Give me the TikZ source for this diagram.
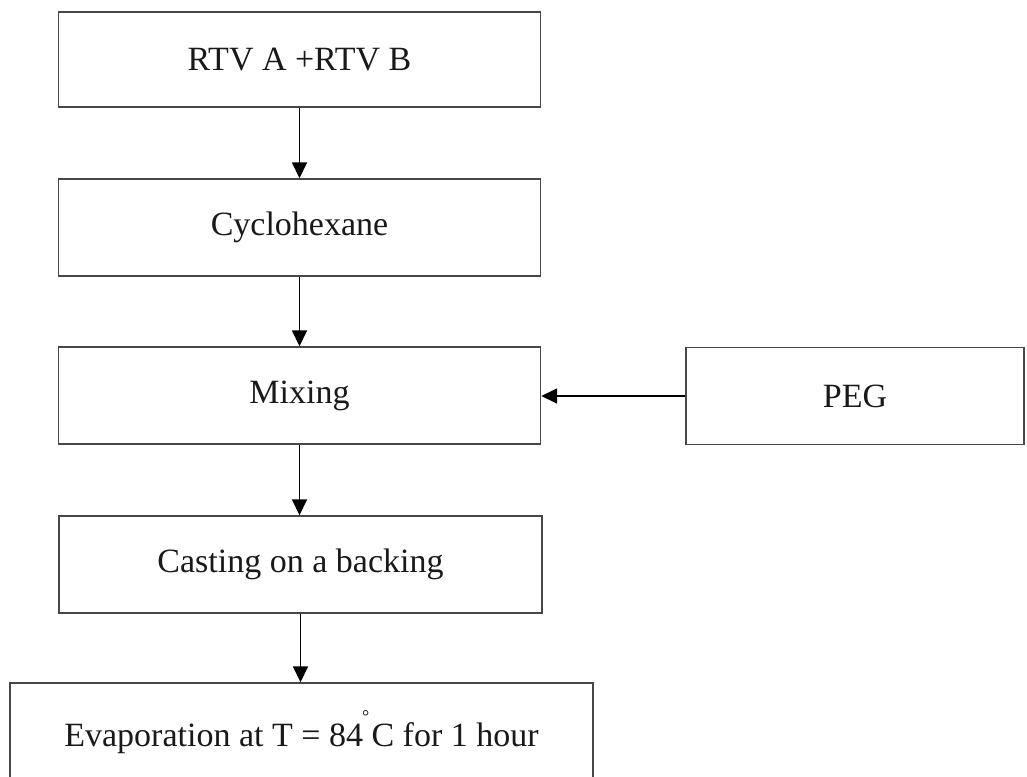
\documentclass[tikz,border=0pt]{standalone}
\usepackage{fontspec}
\setmainfont{Liberation Serif}
\usetikzlibrary{arrows.meta}
\begin{document}
\begin{tikzpicture}[x=1pt,y=-1pt,
  box/.style={draw=black!72, line width=1.4pt, inner sep=0pt,
    font=\fontsize{34}{40}\selectfont, text=black!90},
  arr/.style={draw=black, line width=1.6pt, -{Triangle[length=16pt,width=15pt]}}]
\useasboundingbox (0,0) rectangle (1027,776);
\clip (0,0) rectangle (1027,776);
\fill[white] (0,0) rectangle (1027,776);
\node[box, minimum width=482, minimum height=95] (b1) at (299.5,59.5) {RTV A +RTV B};
\node[box, minimum width=482, minimum height=97] (b2) at (299.5,227.5) {Cyclohexane};
\node[box, minimum width=482, minimum height=97] (b3) at (299.5,395.5) {Mixing};
\node[box, minimum width=338, minimum height=97] (peg) at (855,396) {PEG};
\node[box, minimum width=483, minimum height=97] (b4) at (300.5,564.5) {Casting on a backing};
\node[box, minimum width=583, minimum height=99] (b5) at (301.5,732.5)
  {Evaporation at T = 84\makebox[0pt][l]{\hspace{-1pt}\raisebox{24pt}{\fontsize{18}{18}\selectfont °}} C for 1 hour};
\draw[arr] (b1.south) -- (b2.north);
\draw[arr] (b2.south) -- (b3.north);
\draw[arr] (peg.west) -- (peg.west -| b3.east);
\draw[arr] (b3.south) -- (b3.south |- b4.north);
\draw[arr] (b4.south) -- (b4.south |- b5.north);
\end{tikzpicture}
\end{document}
